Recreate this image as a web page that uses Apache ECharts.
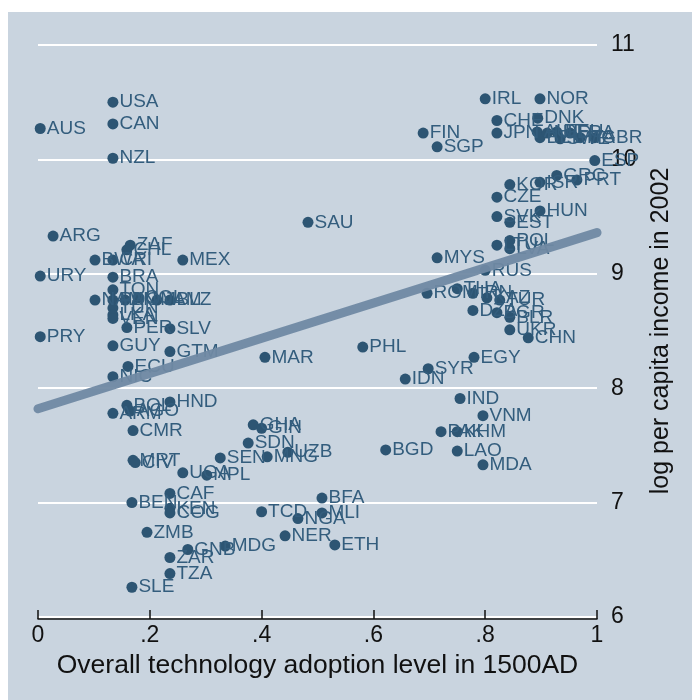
<!DOCTYPE html>
<html>
<head>
<meta charset="utf-8">
<script src="https://cdn.jsdelivr.net/npm/echarts@6/dist/echarts.min.js"></script>
<style>
html,body{margin:0;padding:0;background:#ffffff;}
#bg{position:absolute;left:8px;top:12px;width:684px;height:688px;background:#c9d4df;}
#chart{position:absolute;left:0;top:0;width:692px;height:700px;}
</style>
</head>
<body>
<div id="bg"></div>
<div id="chart"></div>
<script>
// Country codes, technology adoption 1500AD (x), log per capita income 2002 (y)
const codes = ["AUS","USA","CAN","NZL","ARG","ZAF","CHL","CRI","BWA","MEX","URY","BRA","TON","NAM","PAN","DOM","COL","JAM","BLZ","TUN","LKA","VEN","PER","SLV","PRY","GUY","GTM","ECU","NIC","MAR","PHL","SAU","MYS","IDN","SYR","EGY","RUS","ROM","THA","IRN","KAZ","TUR","DZA","BGR","BLR","UKR","CHN","IND","VNM","PAK","KHM","BGD","LAO","MDA","IRL","NOR","CHE","DNK","JPN","FIN","SGP","AUT","BEL","NLD","DEU","SWE","FRA","ITA","GBR","ESP","GRC","PRT","KOR","ISR","CZE","SVK","HUN","EST","POL","LTU","LVA","HND","BOL","AGO","ARM","CMR","MRT","CIV","GHA","GIN","SDN","SEN","MNG","UZB","UGA","NPL","CAF","BEN","KEN","COG","TCD","NGA","BFA","MLI","NER","ETH","ZMB","GNB","MDG","ZAR","TZA","SLE"];
const techAdoption = [0.004,0.134,0.134,0.134,0.027,0.165,0.159,0.134,0.102,0.259,0.004,0.134,0.134,0.102,0.134,0.156,0.179,0.213,0.236,0.134,0.134,0.134,0.159,0.236,0.004,0.134,0.236,0.161,0.134,0.406,0.581,0.483,0.714,0.657,0.698,0.78,0.80,0.696,0.75,0.778,0.803,0.826,0.778,0.821,0.844,0.844,0.877,0.755,0.796,0.721,0.75,0.622,0.75,0.796,0.80,0.898,0.821,0.894,0.821,0.689,0.714,0.893,0.898,0.911,0.928,0.934,0.952,0.97,0.996,0.996,0.928,0.964,0.844,0.898,0.821,0.821,0.898,0.844,0.844,0.821,0.844,0.236,0.159,0.165,0.134,0.17,0.17,0.174,0.385,0.40,0.376,0.326,0.41,0.447,0.259,0.302,0.236,0.168,0.236,0.236,0.40,0.465,0.508,0.508,0.442,0.531,0.195,0.268,0.335,0.236,0.236,0.168];
const logIncome = [10.27,10.50,10.31,10.01,9.33,9.25,9.21,9.12,9.12,9.12,8.98,8.97,8.86,8.77,8.77,8.77,8.79,8.77,8.77,8.70,8.64,8.61,8.53,8.52,8.45,8.37,8.32,8.19,8.10,8.27,8.36,9.45,9.14,8.08,8.17,8.27,9.03,8.83,8.87,8.83,8.79,8.77,8.68,8.66,8.62,8.51,8.44,7.91,7.76,7.62,7.62,7.46,7.45,7.33,10.53,10.53,10.34,10.36,10.23,10.23,10.11,10.24,10.19,10.23,10.24,10.18,10.23,10.19,10.19,9.99,9.86,9.82,9.78,9.80,9.67,9.50,9.55,9.45,9.29,9.25,9.22,7.88,7.85,7.80,7.78,7.63,7.37,7.35,7.68,7.65,7.52,7.39,7.40,7.44,7.26,7.24,7.08,7.00,6.95,6.91,6.92,6.86,7.04,6.91,6.71,6.63,6.74,6.59,6.62,6.52,6.38,6.26];
// Fitted line endpoints
const fitX = [0, 1];
const fitY = [7.82, 9.36];
const xTicks = [0, 0.2, 0.4, 0.6, 0.8, 1];
const xTickLabels = ["0", ".2", ".4", ".6", ".8", "1"];
const yTicks = [6, 7, 8, 9, 10, 11];

const pts = codes.map((c, i) => ({ name: c, value: [techAdoption[i], logIncome[i]] }));
const fit = fitX.map((x, i) => [x, fitY[i]]);

const chart = echarts.init(document.getElementById('chart'));
const FONT = '"Liberation Sans", Arial, sans-serif';
chart.setOption({
  animation: false,
  backgroundColor: 'transparent',
  grid: { left: 38, right: 95, top: 45, bottom: 83, containLabel: false },
  xAxis: {
    type: 'value', min: 0, max: 1, interval: 0.2,
    name: 'Overall technology adoption level in 1500AD',
    nameLocation: 'middle', nameGap: 30,
    nameTextStyle: { fontFamily: FONT, fontSize: 26.5, color: '#111' },
    offset: 2,
    axisLine: { show: true, lineStyle: { color: '#111', width: 1.5 } },
    axisTick: { show: true, inside: true, length: 9, lineStyle: { color: '#111', width: 1.5 } },
    axisLabel: { fontFamily: FONT, fontSize: 23, color: '#111', margin: 5,
      formatter: v => { const k = xTicks.findIndex(t => Math.abs(t - v) < 1e-6); return k >= 0 ? xTickLabels[k] : ''; } },
    splitLine: { show: false }
  },
  yAxis: {
    type: 'value', min: yTicks[0], max: yTicks[yTicks.length - 1], interval: 1, position: 'right',
    name: 'log per capita income in 2002',
    nameLocation: 'middle', nameGap: 52, nameRotate: 90,
    nameTextStyle: { fontFamily: FONT, fontSize: 25, color: '#111' },
    axisLine: { show: false },
    axisTick: { show: false },
    axisLabel: { fontFamily: FONT, fontSize: 23, color: '#111', margin: 14 },
    splitLine: { show: true, lineStyle: { color: '#ffffff', width: 2 } }
  },
  series: [
    {
      type: 'scatter', data: pts, symbol: 'circle', symbolSize: 11,
      itemStyle: { color: '#2d5573', opacity: 1 },
      label: { show: true, position: 'right', distance: 1, formatter: p => p.name,
        fontFamily: FONT, fontSize: 19, color: '#335d7d' },
      z: 3
    },
    {
      type: 'line', data: fit, symbol: 'none', silent: true,
      lineStyle: { color: '#7089a3', width: 9, cap: 'round', opacity: 0.95 },
      z: 4
    }
  ]
});
</script>
</body>
</html>
